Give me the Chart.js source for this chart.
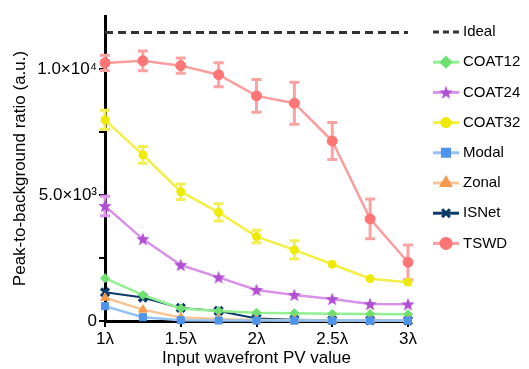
<!DOCTYPE html>
<html lang="en">
<head>
    <meta charset="UTF-8">
    <title>Peak-to-background ratio vs PV</title>
    <script src="https://cdn.jsdelivr.net/npm/chart.js"></script>
    <style>
        html, body { margin: 0; padding: 0; background: #fff; }
        #wrap { width: 529px; height: 369px; }
    </style>
</head>
<body>
    <div id="wrap"><canvas id="pbrChart" width="529" height="369"></canvas></div>

    <script>
        // values
        const xValues = [1, 1.25, 1.5, 1.75, 2, 2.25, 2.5, 2.75, 3];
        const idealValue = 11450;
        const coat12 = [1700, 1030, 500, 400, 330, 310, 290, 280, 270];
        const coat24 = [4560, 3250, 2220, 1730, 1230, 1030, 870, 670, 660];
        const coat32 = [7980, 6590, 5130, 4310, 3350, 2820, 2250, 1680, 1540];
        const modal = [590, 150, 30, 20, 15, 15, 15, 15, 15];
        const zonal = [920, 450, 140, 80, 40, 30, 20, 15, 15];
        const isnet = [1140, 930, 520, 400, 100, 50, 30, 20, 15];
        const tswd = [10240, 10320, 10130, 9770, 8930, 8640, 7140, 4050, 2330];

        const tswdErr = [300, 390, 300, 480, 650, 830, 730, 790, 690];
        const coat32Err = [380, 330, 310, 340, 250, 360, 0, 0, 0];
        const coat24Err = [385, 0, 0, 0, 0, 0, 0, 0, 0];

        const yTickValues = [0, 2500, 5000, 7500, 10000];
        const yTickLabels = { 0: '0', 5000: '5.0×10³', 10000: '1.0×10⁴' };

        function toPoints(arr) {
            return arr.map((v, i) => ({ x: xValues[i], y: v }));
        }

        // filled five point star, used as a point style
        function makeStar(color, size) {
            const c = document.createElement('canvas');
            c.width = size; c.height = size;
            const g = c.getContext('2d');
            const cx = size / 2, cy = size / 2 + 0.5;
            const R = size / 2, r = R * 0.42;
            g.beginPath();
            for (let i = 0; i < 10; i++) {
                const rad = i % 2 === 0 ? R : r;
                const a = -Math.PI / 2 + i * Math.PI / 5;
                g.lineTo(cx + rad * Math.cos(a), cy + rad * Math.sin(a));
            }
            g.closePath();
            g.fillStyle = color;
            g.fill();
            return c;
        }
        const starImg = makeStar('#b14fd2', 14);

        function series(label, data, line, point, style, radius, extra) {
            return Object.assign({
                label: label,
                data: toPoints(data),
                borderColor: line,
                backgroundColor: point,
                pointBackgroundColor: point,
                pointBorderColor: point,
                pointStyle: style,
                pointRadius: radius,
                pointBorderWidth: 1,
                borderWidth: 2.5,
                tension: 0,
                clip: false
            }, extra || {});
        }

        const datasets = [
            {
                label: 'Ideal',
                data: [{ x: 1, y: idealValue }, { x: 3, y: idealValue }],
                borderColor: '#333333',
                borderWidth: 3,
                borderDash: [8, 5],
                pointRadius: 0,
                clip: false,
                order: 9
            },
            series('COAT12', coat12, '#92ef92', '#6fe06f', 'rectRot', 4.5, { order: 4 }),
            series('COAT24', coat24, '#d992ea', '#b14fd2', starImg, 7, { order: 3 }),
            series('COAT32', coat32, '#f3ef45', '#eeea00', 'circle', 4, { order: 2 }),
            series('Modal', modal, '#92c1f2', '#4d94ea', 'rect', 5, { order: 0 }),
            series('Zonal', zonal, '#f7c596', '#f6994c', 'triangle', 5, { order: 1 }),
            series('ISNet', isnet, '#0b3a69', '#0b3a69', 'crossRot', 5.5, { order: 5, pointBorderWidth: 3.5, borderWidth: 2 }),
            series('TSWD', tswd, '#fb9d9d', '#ff7474', 'circle', 5, { order: 6 })
        ];

        const errorSets = { 'TSWD': tswdErr, 'COAT32': coat32Err, 'COAT24': coat24Err };
        const errorColors = { 'TSWD': '#f9a3a3', 'COAT32': '#f2ee55', 'COAT24': '#de94ec' };

        // error bars under the markers
        const errorBars = {
            id: 'errorBars',
            beforeDatasetsDraw(chart) {
                const ctx = chart.ctx;
                const xs = chart.scales.x, ys = chart.scales.y;
                ctx.save();
                chart.data.datasets.forEach(ds => {
                    const errs = errorSets[ds.label];
                    if (!errs) return;
                    ctx.strokeStyle = errorColors[ds.label];
                    ctx.lineWidth = 3;
                    ds.data.forEach((p, i) => {
                        if (!errs[i]) return;
                        const px = xs.getPixelForValue(p.x);
                        const top = ys.getPixelForValue(p.y + errs[i]);
                        const bot = ys.getPixelForValue(p.y - errs[i]);
                        ctx.beginPath();
                        ctx.moveTo(px, top); ctx.lineTo(px, bot);
                        ctx.moveTo(px - 5, top); ctx.lineTo(px + 5, top);
                        ctx.moveTo(px - 5, bot); ctx.lineTo(px + 5, bot);
                        ctx.stroke();
                    });
                });
                ctx.restore();
            }
        };

        // legend with a short line and the marker, like the figure
        const sideLegend = {
            id: 'sideLegend',
            afterDraw(chart) {
                const ctx = chart.ctx;
                ctx.save();
                ctx.font = '15px "Liberation Sans", Arial, sans-serif';
                ctx.textBaseline = 'middle';
                chart.data.datasets.forEach((ds, i) => {
                    const y = 32 + i * 30.2;
                    const x0 = 433, x1 = 459;
                    ctx.strokeStyle = ds.borderColor;
                    ctx.lineWidth = 3;
                    ctx.setLineDash(ds.label === 'Ideal' ? [6, 4] : []);
                    ctx.beginPath();
                    ctx.moveTo(x0, y); ctx.lineTo(x1, y);
                    ctx.stroke();
                    ctx.setLineDash([]);
                    if (ds.label !== 'Ideal') {
                        ctx.fillStyle = ds.pointBackgroundColor;
                        ctx.strokeStyle = ds.pointBorderColor;
                        Chart.helpers.drawPoint(ctx, {
                            pointStyle: ds.pointStyle,
                            radius: ds.pointRadius,
                            rotation: 0,
                            borderWidth: ds.pointBorderWidth
                        }, (x0 + x1) / 2, y);
                    }
                    ctx.fillStyle = '#000';
                    ctx.fillText(ds.label, 463, y);
                });
                ctx.restore();
            }
        };

        const axisFont = { family: '"Liberation Sans", Arial, sans-serif', size: 17 };

        const config = {
            type: 'line',
            data: { datasets: datasets },
            options: {
                responsive: false,
                animation: false,
                layout: { padding: { left: 0, top: 16, right: 121, bottom: 0 } },
                plugins: {
                    legend: { display: false },
                    tooltip: { enabled: false }
                },
                scales: {
                    x: {
                        type: 'linear',
                        min: 1,
                        max: 3,
                        afterFit(scale) { scale.height = 48; },
                        border: { display: true, color: '#000', width: 3 },
                        grid: { drawOnChartArea: false, drawTicks: true, tickLength: 6, color: '#000', lineWidth: 2 },
                        ticks: {
                            stepSize: 0.5,
                            padding: 2,
                            color: '#000',
                            font: axisFont,
                            maxRotation: 0,
                            autoSkip: false,
                            callback: v => v + 'λ'
                        },
                        title: {
                            display: true,
                            text: 'Input wavefront PV value',
                            color: '#000',
                            font: axisFont,
                            padding: { top: 0, bottom: 0 }
                        }
                    },
                    y: {
                        min: 0,
                        max: 12100,
                        afterBuildTicks(scale) {
                            scale.ticks = yTickValues.map(v => ({ value: v }));
                        },
                        afterFit(scale) { scale.width = 105; },
                        border: { display: true, color: '#000', width: 3 },
                        grid: { drawOnChartArea: false, drawTicks: true, tickLength: 6, color: '#000', lineWidth: 2 },
                        ticks: {
                            padding: 2,
                            color: '#000',
                            font: axisFont,
                            autoSkip: false,
                            callback: v => (yTickLabels[v] !== undefined ? yTickLabels[v] : '')
                        },
                        title: {
                            display: true,
                            text: 'Peak-to-background ratio (a.u.)',
                            color: '#000',
                            font: axisFont,
                            padding: { top: 10, bottom: 0 }
                        }
                    }
                }
            },
            plugins: [errorBars, sideLegend]
        };

        const pbrChart = new Chart(document.getElementById('pbrChart').getContext('2d'), config);
    </script>
</body>
</html>
